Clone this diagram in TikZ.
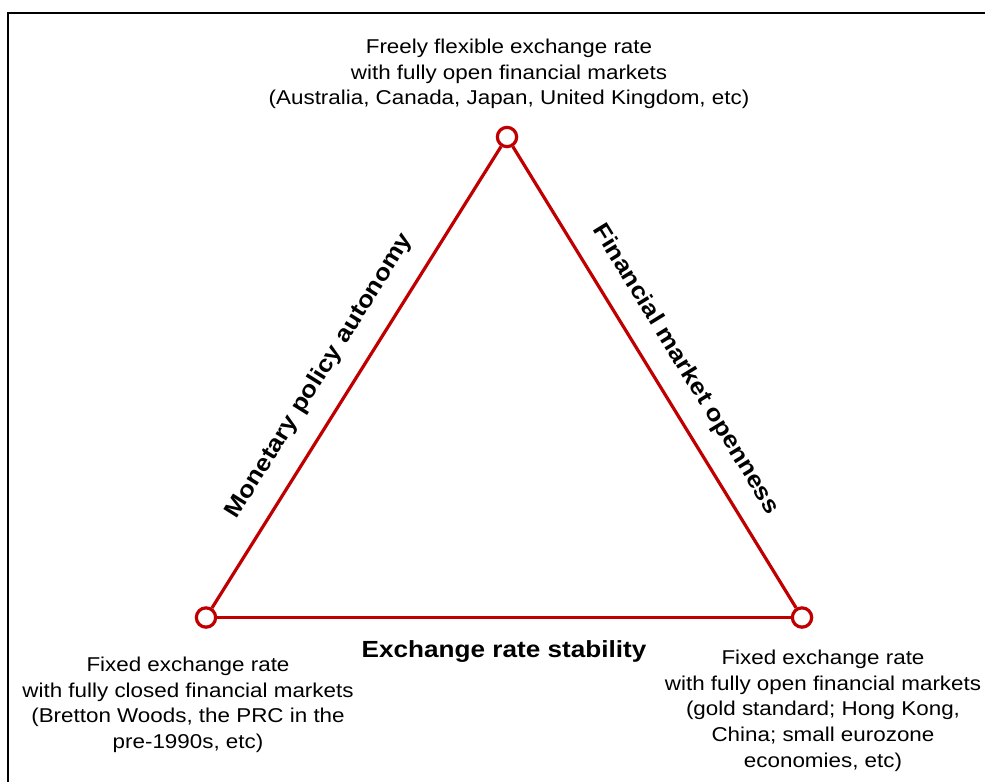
\documentclass[tikz,border=0pt]{standalone}
\usepackage{fontspec}
\setmainfont{Liberation Sans}
\newfontfamily\capfont[FakeStretch=1.12]{Liberation Sans}
\newfontfamily\edgefont[FakeStretch=1.12]{Liberation Sans Bold}
\usepackage{xcolor}
\usepackage{tikz}
\usetikzlibrary{positioning}
\definecolor{trired}{HTML}{C00000}
\tikzset{corner/.style ={draw=trired, line width=2.4pt, circle, fill=white, minimum size=14.5pt, inner sep=0pt}}
\tikzset{side/.style ={draw=trired, line width=2.4pt}}
\tikzset{caption/.style ={align=center, inner sep=0pt, font=\capfont\fontsize{15}{19.2}\selectfont}}
\tikzset{sidelabel/.style ={inner sep=0pt, font=\edgefont\fontsize{17.5}{20}\selectfont}}

\begin{document}
\begin{tikzpicture}[x=0.75pt, y=-0.75pt]
\useasboundingbox (0,0) rectangle (985,782);
\draw[line width=1.5pt] (8.3,782) |- (985,13);
\node[corner] (t) at (507,137) {};
\node[corner] (bl) at (206,617.5) {};
\node[corner] (br) at (802,617.5) {};
\draw[side] (bl) -- node[sidelabel, sloped, pos=0.466, above=14.5pt] (ml) {Monetary policy autonomy} (t);
\draw[side] (t) -- node[sidelabel, sloped, pos=0.518, above=13.5pt] (fl) {Financial market openness} (br);
\draw[side] (bl) -- node[sidelabel, below=16pt] (el) {Exchange rate stability} (br);
\node[caption, anchor=north] (tt) at (509,39) {Freely flexible exchange rate\\with fully open financial markets\\(Australia, Canada, Japan, United Kingdom, etc)};
\node[caption, anchor=north] (tl) at (188,657) {Fixed exchange rate\\with fully closed financial markets\\(Bretton Woods, the PRC in the\\pre-1990s, etc)};
\node[caption, anchor=north] (tr) at (823,650) {Fixed exchange rate\\with fully open financial markets\\(gold standard; Hong Kong,\\China; small eurozone\\economies, etc)};
\end{tikzpicture}
\end{document}
